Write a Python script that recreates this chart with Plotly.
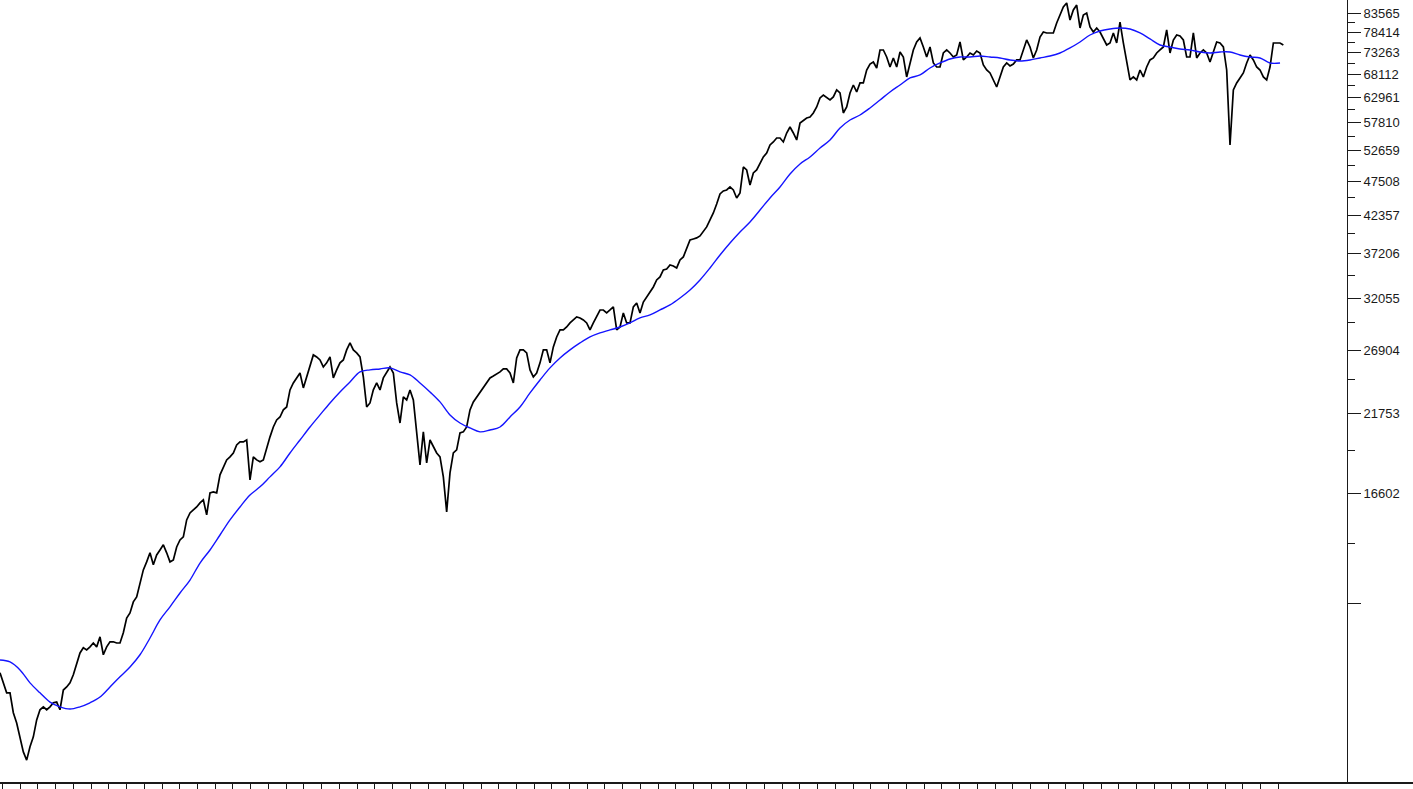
import numpy as np
import pandas as pd
import plotly.graph_objects as go

# ---- index closing values (regular sampling) ----
index_close = [
    9080, 8780, 8490, 8490, 7940, 7670, 7320, 6960, 6770, 7080,
    7320, 7750, 8020, 8100, 8020, 8100, 8210, 8230, 8020, 8570,
    8660, 8780, 9020, 9390, 9710, 9880, 9810, 9910, 10040, 9910,
    10250, 9650, 9910, 10080, 10080, 10040, 10040, 10390, 10920, 11110,
    11530, 11720, 12290, 12840, 13190, 13600, 13060, 13500, 13730, 13970,
    13600, 13190, 13280, 13870, 14200, 14350, 15190, 15550, 15710, 15870,
    16090, 16250, 15450, 16640, 16690, 16640, 17680, 18160, 18590, 18780,
    19030, 19550, 19750, 19750, 19880, 17380, 18780, 18590,
    18470, 18590, 19420, 20090, 20770, 21270, 21480, 22000, 22220, 23530,
    24090, 24500, 24910, 23690, 24580, 25420, 26470, 26290, 26030, 25420,
    25770, 26290, 24500, 25170, 25770, 26030, 26920, 27560, 26920, 26650,
    26290, 24580, 22220, 22520, 23530, 24090, 23530, 24500, 24910, 25420,
    24910, 22520, 21050, 22980, 22750, 23530, 22750, 20560, 18280, 20430,
    18400, 19880, 19420, 19030, 18780, 17560, 15610, 17800, 19030, 19230,
    20360, 20430, 20770, 22000, 22600, 22980, 23370, 23690, 24090, 24500,
    24660, 24830, 25000, 25250, 25250, 24910, 24090, 26200,
    26920, 26920, 26650, 25170, 24580, 24910, 25770, 26920, 26920, 25770,
    27190, 28120, 28790, 28790, 29080, 29480, 29780, 30080, 29980, 29780,
    29480, 28790, 29480, 30080, 30790, 30790, 30490, 30790, 31110, 28790,
    29080, 30490, 29480, 29480, 31110, 31530, 30490, 31630, 32170, 32610,
    33270, 34070, 34410, 35230, 35350, 35830, 35710, 35470, 36440, 36810,
    37940, 38970, 39100, 39240, 39500, 40040, 40720, 41690, 42680, 43990,
    45500, 45960, 46110, 46580, 46110, 44890, 45650, 49820, 49320, 46900,
    48830, 49320, 50500, 51530, 52230, 53650, 54200, 54930, 54930, 54200,
    55860,
    57000, 55860, 54560, 57770, 58360, 58760, 58950, 59750, 60970, 62850,
    63480, 62850, 62420, 63060, 64560, 63910, 59750, 60970, 63910, 65650,
    64130, 66100, 66100, 69050, 70460, 70940, 69520, 73860, 73860, 72140,
    69750, 71900, 69750, 73360, 72140, 67450, 70700, 73860, 75870, 76900,
    74610, 72140, 74610, 70700, 69750, 69750, 73120, 73860, 73120, 72140,
    72630, 75870, 71420, 72140, 73120, 72630, 73610, 73120, 70230, 69050,
    68360, 66770, 65210, 67450, 69750, 70700, 69990, 70460, 71420, 71420,
    73860, 76390, 74610, 71900, 73860, 77160, 78470, 78210,
    78210, 78210, 80880, 83090, 85360, 86510, 81700, 84500, 85930, 79540,
    83090, 83650, 79800, 78470, 79540, 78470, 76900, 75110, 75620, 78210,
    75620, 81150, 75620, 71420, 66770, 67450, 66770, 69050, 67450, 69750,
    71420, 71900, 73120, 73860, 74610, 79000, 73120, 76390, 77680, 77420,
    76390, 72140, 72140, 78210, 71900, 73120, 73860, 73120, 70940, 73360,
    75870, 75620, 74610, 69050, 53650, 64560, 66100, 67220, 68360, 70700,
    72630, 71420, 69750, 69050, 67450, 66770, 69750, 75620, 75620, 75620,
    75110,
]

# ---- moving average (sampled every third close date) ----
moving_avg = [
    9480, 9420, 9170, 8780, 8490, 8230, 8100, 8040, 8100, 8210,
    8370, 8660, 8960, 9260, 9650, 10210, 10850, 11340, 11880, 12410,
    13140, 13730, 14440, 15190, 15870, 16520, 16980, 17560, 18160, 19030,
    19880, 20770, 21630, 22520, 23370, 24170, 25000, 25170, 25250, 25340,
    25000, 24750, 24090, 23370, 22600, 21630, 21050, 20700, 20430, 20560,
    20770, 21480, 22220, 23290, 24330, 25340, 26200, 26920, 27560, 28120,
    28500, 28790, 29080, 29480, 29980, 30280, 30790, 31320, 32060, 32940,
    34070, 35470, 37050, 38580, 40040, 41410, 43110, 44890, 46580, 48660,
    50330, 51530, 53110, 54560, 56810, 58360, 59350, 60770, 62420, 64130,
    65650, 67220, 67900, 69520, 70700, 71660, 72140, 72140, 72380, 72140,
    71900, 71420, 71180, 71420, 71900, 72380, 73120, 74360, 75870, 77680,
    78740, 79270, 79540, 79270, 78210, 76650, 75110, 74610, 74110, 73860,
    73360, 73120, 73360, 73360, 72630, 72140, 71900, 70700, 70700,
]

# ---- axis ticks ----
y_tick_values = [83565, 78414, 73263, 68112, 62961, 57810, 52659, 47508,
                 42357, 37206, 32055, 26904, 21753, 16602, 11451]
y_tick_labels = ["83565", "78414", "73263", "68112", "62961", "57810", "52659",
                 "47508", "42357", "37206", "32055", "26904", "21753", "16602", ""]
y_minor_values = [80989.5, 75838.5, 70687.5, 65536.5, 60385.5, 55234.5, 50083.5,
                  44932.5, 39781.5, 34630.5, 29479.5, 24328.5, 19177.5, 14026.5]

close_dates = pd.date_range("2002-12-18", "2021-01-25", periods=len(index_close))
ma_dates = close_dates[::3][:len(moving_avg)]
quarter_ticks = [d.strftime("%Y-%m-%d") for d in
                 pd.date_range("2003-01-01", "2021-01-01", freq="QS")]

axis_col = "#1a1a1a"

fig = go.Figure()
fig.add_trace(go.Scatter(
    x=close_dates, y=index_close, mode="lines",
    line=dict(color="#000000", width=1.7), hoverinfo="skip"))
fig.add_trace(go.Scatter(
    x=ma_dates, y=moving_avg, mode="lines",
    line=dict(color="#1414ff", width=1.4, shape="spline"), hoverinfo="skip"))

fig.update_layout(
    width=1413, height=789,
    margin=dict(l=0, r=66, t=0, b=7),
    paper_bgcolor="white", plot_bgcolor="white",
    showlegend=False,
    font=dict(family="Arial, 'Liberation Sans', sans-serif", size=13, color="#1a1a1a"),
)
fig.update_xaxes(
    range=["2002-12-18", "2021-12-19"],
    showgrid=False, zeroline=False,
    showline=True, linecolor=axis_col, linewidth=2,
    ticks="outside", ticklen=6, tickwidth=1, tickcolor=axis_col,
    tickmode="array", tickvals=quarter_ticks, showticklabels=False,
)
fig.update_yaxes(
    type="log", side="right",
    range=[np.log10(6289), np.log10(87390)],
    showgrid=False, zeroline=False,
    showline=True, linecolor=axis_col, linewidth=1,
    ticks="outside", ticklen=13, tickwidth=1, tickcolor=axis_col,
    tickmode="array", tickvals=y_tick_values, ticktext=y_tick_labels,
    minor=dict(tickmode="array", tickvals=y_minor_values, ticks="outside",
               ticklen=7, tickwidth=1, tickcolor=axis_col, showgrid=False),
)
# bottom rule continues under the price-scale area
fig.add_shape(type="line", xref="paper", yref="paper",
              x0=1, x1=1413 / 1347, y0=-1.0 / 782, y1=-1.0 / 782,
              line=dict(color=axis_col, width=2))

fig.write_html("out.html", config={"displayModeBar": False},
               post_script="document.body.style.margin='0px';"
                           "document.body.style.overflow='hidden';")
